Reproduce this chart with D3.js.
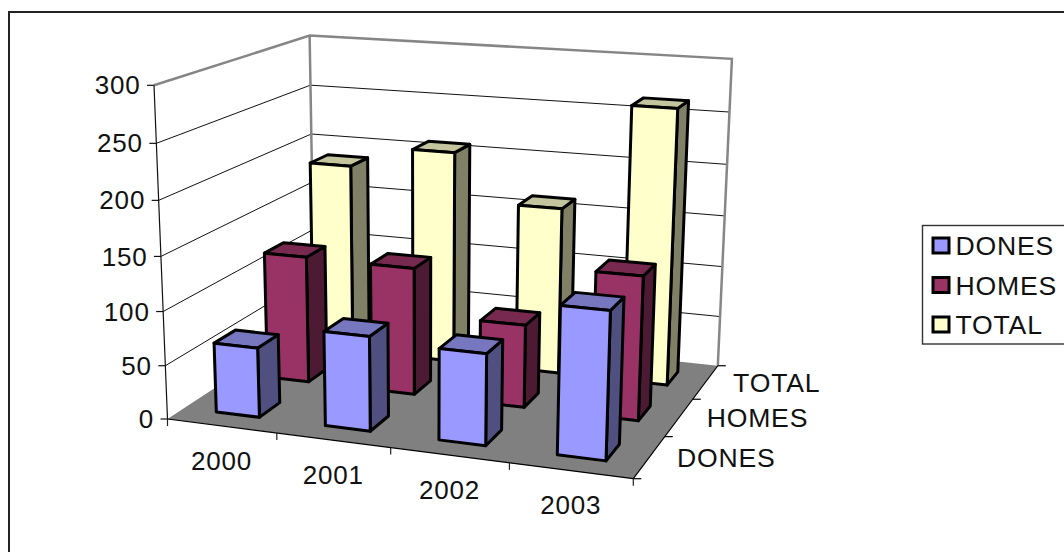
<!DOCTYPE html>
<html>
<head>
<meta charset="utf-8">
<script src="https://cdn.jsdelivr.net/npm/d3@7"></script>
<style>
  html, body { margin: 0; padding: 0; background: #fff; overflow: hidden; }
  text { font-family: "Liberation Sans", Arial, sans-serif; font-size: 26px; letter-spacing: 0.8px; fill: #111; }
  text.name { font-size: 26.6px; }
</style>
</head>
<body>
<div id="container"></div>
<script>
const years = ["2000", "2001", "2002", "2003"];
const seriesNames = ["DONES", "HOMES", "TOTAL"];
const dones = [65, 87, 83, 132];
const homes = [122, 121, 78, 134];
const total = [187, 208, 162, 264];
const yTicks = [0, 50, 100, 150, 200, 250, 300];

const seriesValues = [dones, homes, total];
const colors = {
    DONES: { front: "#9999ff", top: "#7777c0", side: "#4f4f80" },
    HOMES: { front: "#993366", top: "#772950", side: "#4d1a33" },
    TOTAL: { front: "#ffffcc", top: "#c4c49e", side: "#808066" }
};

const width = 1064, height = 552;

const svg = d3.select("#container").append("svg")
    .attr("width", width)
    .attr("height", height)
    .style("display", "block");

// unit cube -> screen, camera
const corner = { a: [167.5, 419], b: [633.3, 478.7], e: [154, 85.3], d: [314.5, 322.5] };
const persp = { x: -0.08, y: -0.05, z: 0.1717 };

function project(x, y, z) {
    const w = 1 + persp.x * x + persp.y * y + persp.z * z;
    return [0, 1].map(function(i) {
        return (corner.a[i]
            + x * ((1 + persp.x) * corner.b[i] - corner.a[i])
            + y * ((1 + persp.y) * corner.e[i] - corner.a[i])
            + z * ((1 + persp.z) * corner.d[i] - corner.a[i])) / w;
    });
}

const xScale = d3.scaleBand().domain(years).range([0, 1]).paddingInner(0.6).paddingOuter(0.3);
const zScale = d3.scaleBand().domain(seriesNames).range([0, 1]).paddingInner(0.6).paddingOuter(0.3);
const yScale = d3.scaleLinear().domain([0, 300]).range([0, 1]);

const line = d3.line();

function poly(points, fill) {
    return g.append("path")
        .attr("d", line(points) + "Z")
        .attr("fill", fill);
}

function seg(p0, p1, stroke, sw) {
    g.append("line")
        .attr("x1", p0[0]).attr("y1", p0[1])
        .attr("x2", p1[0]).attr("y2", p1[1])
        .attr("stroke", stroke)
        .attr("stroke-width", sw);
}

// outer frame, runs off the right and bottom of the picture
svg.append("rect")
    .attr("x", 9).attr("y", 12)
    .attr("width", 1100).attr("height", 600)
    .attr("fill", "none")
    .attr("stroke", "#222")
    .attr("stroke-width", 2);

const g = svg.append("g");

// floor
poly([project(0, 0, 0), project(1, 0, 0), project(1, 0, 1), project(0, 0, 1)], "#808080");

// gridlines on both walls
yTicks.slice(1, -1).forEach(function(v) {
    const y = yScale(v);
    g.append("path")
        .attr("d", line([project(0, y, 0), project(0, y, 1), project(1, y, 1)]))
        .attr("fill", "none")
        .attr("stroke", "#111")
        .attr("stroke-width", 1);
});

// wall outline
g.append("path")
    .attr("d", line([project(0, 1, 0), project(0, 1, 1), project(1, 1, 1), project(1, 0, 1)]))
    .attr("fill", "none")
    .attr("stroke", "#868686")
    .attr("stroke-width", 2.5);
seg(project(0, 1, 1), project(0, 0, 1), "#868686", 2.5);

// axes
seg(project(0, 0, 0), project(0, 1, 0), "#111", 1.2);
seg(project(0, 0, 0), project(1, 0, 0), "#000", 1.2);
seg(project(1, 0, 0), project(1, 0, 1), "#000", 1.2);

yTicks.forEach(function(v) {
    const p = project(0, yScale(v), 0);
    seg(p, [p[0] - 7, p[1]], "#111", 1.2);
    g.append("text")
        .attr("x", p[0] - 13.5)
        .attr("y", p[1])
        .attr("dy", "0.35em")
        .attr("text-anchor", "end")
        .text(v);
});

d3.range(years.length + 1).forEach(function(i) {
    const p = project(i * xScale.step(), 0, 0);
    seg(p, [p[0], p[1] + 7], "#222", 1.2);
});
years.forEach(function(d) {
    const p = project(xScale(d) + xScale.bandwidth() / 2, 0, 0);
    g.append("text")
        .attr("x", p[0])
        .attr("y", p[1] + 34.5)
        .attr("dy", "0.35em")
        .attr("text-anchor", "middle")
        .text(d);
});

d3.range(seriesNames.length + 1).forEach(function(i) {
    const p = project(1, 0, i * zScale.step());
    seg(p, [p[0] + 8, p[1]], "#000", 1.2);
});
seriesNames.forEach(function(d) {
    const p = project(1, 0, zScale(d) + zScale.bandwidth() / 2);
    g.append("text")
        .attr("class", "name")
        .attr("x", p[0] + 27.5)
        .attr("y", p[1] + 0.5)
        .attr("dy", "0.35em")
        .text(d);
});

// bars, back row first
seriesNames.slice().reverse().forEach(function(name) {
    const values = seriesValues[seriesNames.indexOf(name)];
    const c = colors[name];
    years.forEach(function(year, i) {
        const x0 = xScale(year), x1 = x0 + xScale.bandwidth();
        const z0 = zScale(name), z1 = z0 + zScale.bandwidth();
        const h = yScale(values[i]);
        const bar = g.append("g")
            .attr("stroke", "#000")
            .attr("stroke-width", 3)
            .attr("stroke-linejoin", "round");
        bar.append("path")
            .attr("d", line([project(x1, 0, z0), project(x1, 0, z1), project(x1, h, z1), project(x1, h, z0)]) + "Z")
            .attr("fill", c.side);
        bar.append("path")
            .attr("d", line([project(x0, h, z0), project(x1, h, z0), project(x1, h, z1), project(x0, h, z1)]) + "Z")
            .attr("fill", c.top);
        bar.append("path")
            .attr("d", line([project(x0, 0, z0), project(x1, 0, z0), project(x1, h, z0), project(x0, h, z0)]) + "Z")
            .attr("fill", c.front);
    });
});

// legend
const legend = svg.append("g");
legend.append("rect")
    .attr("x", 922.5).attr("y", 225.5)
    .attr("width", 200).attr("height", 118.5)
    .attr("fill", "#fff")
    .attr("stroke", "#333")
    .attr("stroke-width", 1.4);
seriesNames.forEach(function(name, i) {
    const cy = 245.5 + i * 39.5;
    legend.append("rect")
        .attr("x", 933).attr("y", cy - 7.5)
        .attr("width", 16).attr("height", 15)
        .attr("fill", colors[name].front)
        .attr("stroke", "#000")
        .attr("stroke-width", 3);
    legend.append("text")
        .attr("class", "name")
        .attr("x", 955.5)
        .attr("y", cy + 0.3)
        .attr("dy", "0.35em")
        .text(name);
});
</script>
</body>
</html>
